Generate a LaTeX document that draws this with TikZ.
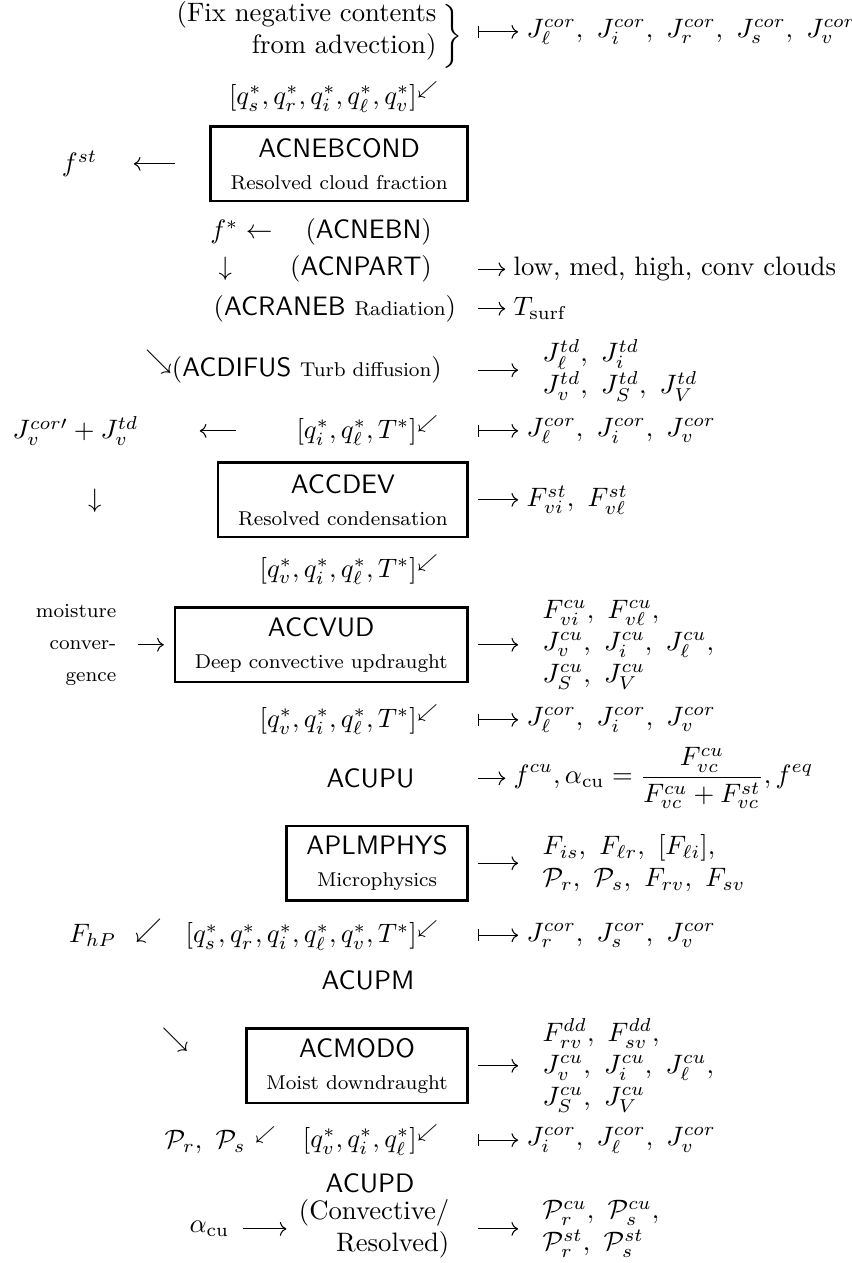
\documentclass[tikz,border=0pt]{standalone}
\usetikzlibrary{arrows.meta}
\newcommand{\subsz}{\fontsize{7.5}{9}\selectfont}

\begin{document}
\begin{tikzpicture}[
  >={Computer Modern Rightarrow},
  inner sep=0pt,
  procbox/.style={draw,line width=.9pt,align=center,anchor=east,
    inner xsep=7.5pt,minimum height=28pt},
  outone/.style={anchor=west,inner xsep=3pt},
  outlist/.style={anchor=west,inner xsep=9pt,align=left},
  mapto/.style={{Bar[width=4.5pt]}->}
]
  \useasboundingbox (0,0) rectangle (11.22,-16.65);
  \coordinate (ax) at (6.30,0);

  % fix negative contents
  \node[anchor=east,align=right] (fixneg) at (5.76,-0.41)
    {(Fix negative contents\\from advection)};
  \node (brace1) at (5.97,-0.48) {$\biggr\}$};
  \node[outone] (jcor1) at (6.83,-0.42)
    {$J^{cor}_\ell,\ J^{cor}_i,\ J^{cor}_r,\ J^{cor}_s,\ J^{cor}_v$};
  \draw[mapto] (ax |- jcor1.west) -- (jcor1.west);

  % resolved cloud fraction
  \node[anchor=east] (qsrilv) at (5.80,-1.28)
    {$[q_s^*,q_r^*,q_i^*,q_\ell^*,q_v^*]^{\swarrow}$};
  \node[procbox] (acnebcond) at (6.18,-2.16)
    {\textsf{ACNEBCOND}\\{\subsz Resolved cloud fraction}};
  \node (fst) at (1.05,-2.16) {$f^{st}$};
  \draw[<-,shorten <=13.5pt,shorten >=13pt] (fst.east) -- (acnebcond.west);

  \node[anchor=east] (fstar) at (3.60,-3.06) {$f^*\leftarrow$};
  \node[anchor=east] (acnebn) at (5.70,-3.06) {(\textsf{ACNEBN})};
  \node (fdown) at (2.97,-3.55) {$\downarrow$};
  \node[anchor=east] (acnpart) at (5.70,-3.55) {(\textsf{ACNPART})};
  \node[outone] (clouds) at (6.66,-3.55) {low, med, high, conv clouds};
  \draw[->] (ax |- clouds.west) -- (clouds.west);

  \node[anchor=east] (acraneb) at (6.02,-4.07)
    {(\textsf{ACRANEB} {\subsz Radiation})};
  \node[outone] (tsurf) at (6.66,-4.07) {$T_{\mathrm{surf}}$};
  \draw[->] (ax |- tsurf.west) -- (tsurf.west);

  \node[anchor=east] (acdifus) at (5.83,-4.88)
    {\smash{\raisebox{3pt}{$\searrow$}}(\textsf{ACDIFUS} {\subsz Turb diffusion})};
  \node[outlist] (jtd) at (6.83,-4.88)
    {$J^{td}_\ell,\ J^{td}_i$\\$J^{td}_v,\ J^{td}_S,\ J^{td}_V$};
  \draw[->] (ax |- jtd.west) -- (jtd.west);

  % resolved condensation
  \node[anchor=west] (jvsum) at (0.16,-5.68) {$J_v^{cor\prime}+J_v^{td}$};
  \node[anchor=east] (qilt) at (5.80,-5.68) {$[q_i^*,q_\ell^*,T^*]^{\swarrow}$};
  \node[outone] (jcor2) at (6.83,-5.68)
    {$J^{cor}_\ell,\ J^{cor}_i,\ J^{cor}_v$};
  \draw[<-,shorten <=22.8pt,shorten >=22.4pt] (jvsum.east) -- (qilt.west);
  \draw[mapto] (ax |- jcor2.west) -- (jcor2.west);

  \node[procbox] (accdev) at (6.18,-6.59)
    {\textsf{ACCDEV}\\{\subsz Resolved condensation}};
  \node (jdown) at (1.25,-6.60) {$\downarrow$};
  \node[outone] (fst2) at (6.83,-6.59) {$F^{st}_{vi},\ F^{st}_{v\ell}$};
  \draw[->] (ax |- fst2.west) -- (fst2.west);

  \node[anchor=east] (qvilt) at (5.80,-7.51)
    {$[q_v^*,q_i^*,q_\ell^*,T^*]^{\swarrow}$};

  % deep convective updraught
  \node[procbox] (accvud) at (6.18,-8.50)
    {\textsf{ACCVUD}\\{\subsz Deep convective updraught}};
  \node[anchor=east,align=right,font=\subsz] (moist) at (1.54,-8.50)
    {moisture\\[3pt]conver-\\[3pt]gence};
  \draw[->,shorten <=8pt,shorten >=3.7pt] (moist.east) -- (moist.east -| accvud.west);
  \node[outlist] (cuout) at (6.83,-8.50)
    {$F^{cu}_{vi},\ F^{cu}_{v\ell},$\\$J^{cu}_v,\ J^{cu}_i,\ J^{cu}_\ell,$\\$J^{cu}_S,\ J^{cu}_V$};
  \draw[->] (ax |- cuout.west) -- (cuout.west);

  \node[anchor=east] (qvilt2) at (5.80,-9.49)
    {$[q_v^*,q_i^*,q_\ell^*,T^*]^{\swarrow}$};
  \node[outone] (jcor3) at (6.83,-9.49)
    {$J^{cor}_\ell,\ J^{cor}_i,\ J^{cor}_v$};
  \draw[mapto] (ax |- jcor3.west) -- (jcor3.west);

  \node[anchor=east] (acupu) at (5.47,-10.26) {\textsf{ACUPU}};
  \node[outone] (fcu) at (6.66,-10.26)
    {$\displaystyle f^{cu},\alpha_{\mathrm{cu}}=\frac{F^{cu}_{vc}}{F^{cu}_{vc}+F^{st}_{vc}},f^{eq}$};
  \draw[->] (ax |- fcu.west) -- (fcu.west);

  % microphysics
  \node[procbox] (aplmphys) at (6.18,-11.38)
    {\textsf{APLMPHYS}\\{\subsz Microphysics}};
  \node[outlist] (mpout) at (6.83,-11.38)
    {$F_{is},\ F_{\ell r},\ [F_{\ell i}],$\\$\mathcal{P}_r,\ \mathcal{P}_s,\ F_{rv},\ F_{sv}$};
  \draw[->] (ax |- mpout.west) -- (mpout.west);

  \node[anchor=east] (fhp) at (2.14,-12.33)
    {$F_{hP}$\hspace{7pt}\smash{\raisebox{2pt}{$\swarrow$}}};
  \node[anchor=east] (qsrilvt) at (5.80,-12.33)
    {$[q_s^*,q_r^*,q_i^*,q_\ell^*,q_v^*,T^*]^{\swarrow}$};
  \node[outone] (jcor4) at (6.83,-12.33)
    {$J^{cor}_r,\ J^{cor}_s,\ J^{cor}_v$};
  \draw[mapto] (ax |- jcor4.west) -- (jcor4.west);
  \node[anchor=east] (acupm) at (5.47,-12.93) {\textsf{ACUPM}};

  % moist downdraught
  \node (ddin) at (2.31,-13.71) {$\searrow$};
  \node[procbox] (acmodo) at (6.18,-14.05)
    {\textsf{ACMODO}\\{\subsz Moist downdraught}};
  \node[outlist] (ddout) at (6.83,-14.05)
    {$F^{dd}_{rv},\ F^{dd}_{sv},$\\$J^{cu}_v,\ J^{cu}_i,\ J^{cu}_\ell,$\\$J^{cu}_S,\ J^{cu}_V$};
  \draw[->] (ax |- ddout.west) -- (ddout.west);

  \node[anchor=east] (prps) at (3.66,-15.03)
    {$\mathcal{P}_r,\ \mathcal{P}_s\ {}^{\swarrow}$};
  \node[anchor=east] (qvil) at (5.80,-15.03) {$[q_v^*,q_i^*,q_\ell^*]^{\swarrow}$};
  \node[outone] (jcor5) at (6.83,-15.03)
    {$J^{cor}_i,\ J^{cor}_\ell,\ J^{cor}_v$};
  \draw[mapto] (ax |- jcor5.west) -- (jcor5.west);
  \node[anchor=east] (acupd) at (5.47,-15.60) {\textsf{ACUPD}};

  % convective / resolved split
  \node[anchor=east] (alphacu) at (3.03,-16.20) {$\alpha_{\mathrm{cu}}$};
  \node[anchor=east,align=right] (convres) at (5.93,-16.20)
    {(Convective/\\Resolved)};
  \draw[->,shorten <=5pt,shorten >=4.5pt] (alphacu.east) -- (alphacu.east -| convres.west);
  \node[outlist] (precip) at (6.83,-16.20)
    {$\mathcal{P}^{cu}_r,\ \mathcal{P}^{cu}_s,$\\$\mathcal{P}^{st}_r,\ \mathcal{P}^{st}_s$};
  \draw[->] (ax |- precip.west) -- (precip.west);
\end{tikzpicture}
\end{document}
